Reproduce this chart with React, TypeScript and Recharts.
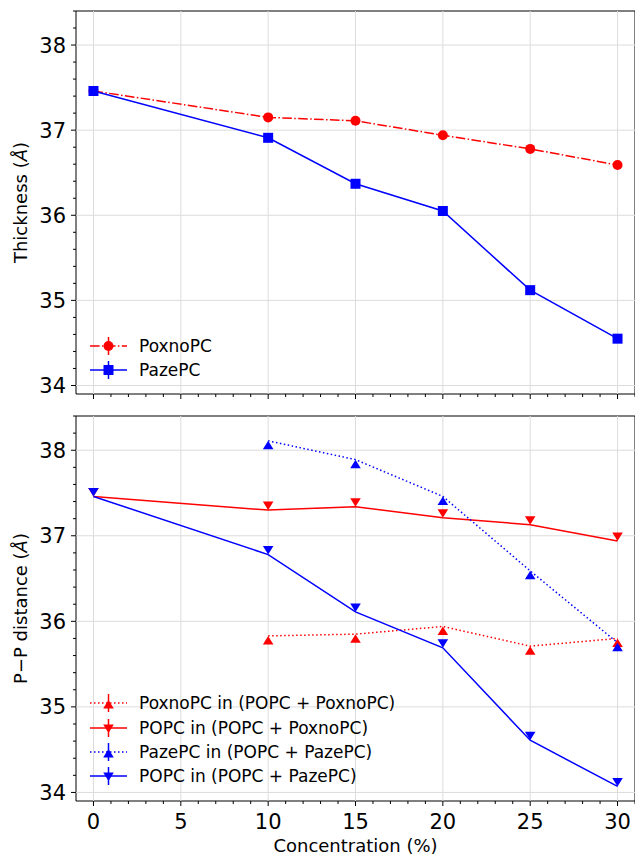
import React from "react";
import { Label, Legend, Line, LineChart, ReferenceArea, ReferenceLine, XAxis, YAxis } from "recharts";

// concentration (%) on the shared x axis
const concentration = [0, 10, 15, 20, 25, 30];

// top panel: bilayer thickness (Å)
const thicknessPoxno = [37.46, 37.15, 37.11, 36.94, 36.78, 36.59];
const thicknessPaze = [37.46, 36.91, 36.37, 36.05, 35.12, 34.55];

// bottom panel: P−P distance (Å)
const ppPoxnoInMix = [null, 35.83, 35.85, 35.94, 35.71, 35.8];
const ppPopcInPoxno = [37.46, 37.3, 37.34, 37.21, 37.13, 36.94];
const ppPazeInMix = [null, 38.11, 37.89, 37.46, 36.59, 35.75];
const ppPopcInPaze = [37.46, 36.78, 36.11, 35.69, 34.61, 34.07];

const xMajor = [0, 5, 10, 15, 20, 25, 30];
const xTicks = Array.from({ length: 32 }, (_, i) => i);
const yMajor = [34, 35, 36, 37, 38];
const yTicks = Array.from({ length: 23 }, (_, i) => +(34 + i * 0.2).toFixed(1));
const xDomain = [-1, 31];
const yDomain = [33.9, 38.4];

const RED = "#ff0000";
const BLUE = "#0000ff";
const FONT = "'DejaVu Sans', sans-serif";
const DASHDOT = "9.6 2.4 1.5 2.4";
const DOTTED = "1.5 2.5";

type MarkerKind = "circle" | "square" | "up" | "down";
type SeriesDef = { key: string; name: string; color: string; dash?: string; marker: MarkerKind };

const topSeries: SeriesDef[] = [
  { key: "poxno", name: "PoxnoPC", color: RED, dash: DASHDOT, marker: "circle" },
  { key: "paze", name: "PazePC", color: BLUE, marker: "square" },
];

const bottomSeries: SeriesDef[] = [
  { key: "poxnoMix", name: "PoxnoPC in (POPC + PoxnoPC)", color: RED, dash: DOTTED, marker: "up" },
  { key: "popcPoxno", name: "POPC in (POPC + PoxnoPC)", color: RED, marker: "down" },
  { key: "pazeMix", name: "PazePC in (POPC + PazePC)", color: BLUE, dash: DOTTED, marker: "up" },
  { key: "popcPaze", name: "POPC in (POPC + PazePC)", color: BLUE, marker: "down" },
];

const topData = concentration.map((c, i) => ({
  c,
  poxno: thicknessPoxno[i],
  paze: thicknessPaze[i],
}));

const bottomData = concentration.map((c, i) => ({
  c,
  poxnoMix: ppPoxnoInMix[i],
  popcPoxno: ppPopcInPoxno[i],
  pazeMix: ppPazeInMix[i],
  popcPaze: ppPopcInPaze[i],
}));

function markerShape(kind: MarkerKind, cx: number, cy: number, color: string, key?: string | number) {
  if (kind === "circle") return <circle key={key} cx={cx} cy={cy} r={5} fill={color} />;
  if (kind === "square") return <rect key={key} x={cx - 5} y={cy - 5} width={10} height={10} fill={color} />;
  const w = 5.3;
  const h = kind === "up" ? 8.5 : -8.5;
  return (
    <polygon
      key={key}
      points={`${cx - w},${cy + h} ${cx + w},${cy + h} ${cx},${cy}`}
      fill={color}
    />
  );
}

function makeDot(s: SeriesDef) {
  return (p: any) => {
    if (p.cx == null || p.cy == null || p.value == null) return <g key={`${s.key}-${p.index}`} />;
    return markerShape(s.marker, p.cx, p.cy, s.color, `${s.key}-${p.index}`);
  };
}

function XTick(props: any) {
  const { x, y, payload, showLabel } = props;
  const v = payload.value;
  const major = v % 5 === 0;
  return (
    <g>
      <line x1={x} x2={x} y1={y} y2={y + (major ? 5 : 3)} stroke="#000" strokeWidth={1} />
      {major && showLabel && (
        <text x={x} y={y + 27.5} textAnchor="middle" fontSize={21} fill="#000">
          {v}
        </text>
      )}
    </g>
  );
}

function YTick(props: any) {
  const { x, y, payload } = props;
  const v = payload.value;
  const major = Math.abs(v - Math.round(v)) < 1e-6;
  return (
    <g>
      <line x1={x} x2={x - (major ? 5 : 3)} y1={y} y2={y} stroke="#000" strokeWidth={1} />
      {major && (
        <text x={x - 10} y={y + 7.5} textAnchor="end" fontSize={21} fill="#000">
          {Math.round(v)}
        </text>
      )}
    </g>
  );
}

function legendContent(series: SeriesDef[]) {
  return () => (
    <div style={{ fontFamily: FONT, fontSize: 17, color: "#000" }}>
      {series.map((s) => (
        <div key={s.key} style={{ display: "flex", alignItems: "center", height: 24.3 }}>
          <svg width={54} height={24} style={{ display: "block" }}>
            <line x1={5} x2={42} y1={12} y2={12} stroke={s.color} strokeWidth={1.5} strokeDasharray={s.dash} />
            <line x1={23.5} x2={23.5} y1={3} y2={21} stroke={s.color} strokeWidth={1.5} />
            {markerShape(s.marker, 23.5, s.marker === "up" ? 9 : s.marker === "down" ? 17 : 12, s.color)}
          </svg>
          <span style={{ whiteSpace: "nowrap", lineHeight: "24px" }}>{s.name}</span>
        </div>
      ))}
    </div>
  );
}

function yLabel(text: string) {
  return (props: any) => {
    const vb = props.viewBox || { y: 0, height: 0 };
    const cy = vb.y + vb.height / 2;
    return (
      <text
        x={20}
        y={cy}
        transform={`rotate(-90 20 ${cy})`}
        textAnchor="middle"
        dominantBaseline="central"
        fontSize={18}
        fill="#000"
      >
        {text}
        <tspan fontStyle="italic">Å</tspan>)
      </text>
    );
  };
}

function gridAndFrame() {
  return [
    ...xMajor.map((v) => (
      <ReferenceLine key={`gx${v}`} x={v} stroke="#dcdcdc" strokeWidth={1} ifOverflow="hidden" />
    )),
    ...yMajor.map((v) => (
      <ReferenceLine key={`gy${v}`} y={v} stroke="#dcdcdc" strokeWidth={1} ifOverflow="hidden" />
    )),
    <ReferenceArea
      key="frame"
      x1={xDomain[0]}
      x2={xDomain[1]}
      y1={yDomain[0]}
      y2={yDomain[1]}
      fill="none"
      fillOpacity={0}
      stroke="#000"
      strokeWidth={1}
      strokeOpacity={1}
    />,
  ];
}

function renderLines(series: SeriesDef[]) {
  return series.map((s) => (
    <Line
      key={s.key}
      dataKey={s.key}
      name={s.name}
      stroke={s.color}
      strokeWidth={1.5}
      strokeDasharray={s.dash}
      dot={makeDot(s)}
      activeDot={false}
      isAnimationActive={false}
      connectNulls={false}
    />
  ));
}

export default function App() {
  return (
    <div style={{ position: "absolute", left: 0, top: 0, width: 635, height: 855, overflow: "hidden", fontFamily: FONT, background: "#fff" }}>
      <div style={{ position: "absolute", left: 0, top: 0 }}>
        <LineChart width={640} height={400} data={topData} margin={{ top: 11, right: 5, left: 0, bottom: 0 }}>
          {gridAndFrame()}
          <XAxis
            dataKey="c"
            type="number"
            domain={xDomain}
            ticks={xTicks}
            interval={0}
            allowDataOverflow
            height={6}
            tickSize={0}
            tickMargin={0}
            tickLine={false}
            axisLine={false}
            tick={<XTick showLabel={false} />}
          />
          <YAxis
            type="number"
            domain={yDomain}
            ticks={yTicks}
            interval={0}
            allowDataOverflow
            width={76}
            tickSize={0}
            tickMargin={0}
            tickLine={false}
            axisLine={false}
            tick={<YTick />}
          >
            <Label content={yLabel("Thickness (")} />
          </YAxis>
          {renderLines(topSeries)}
          <Legend
            layout="vertical"
            verticalAlign="middle"
            align="center"
            wrapperStyle={{ left: 85, top: 333.5, width: 320 }}
            content={legendContent(topSeries)}
          />
        </LineChart>
      </div>
      <div style={{ position: "absolute", left: 0, top: 405 }}>
        <LineChart width={640} height={450} data={bottomData} margin={{ top: 11, right: 5, left: 0, bottom: 0 }}>
          {gridAndFrame()}
          <XAxis
            dataKey="c"
            type="number"
            domain={xDomain}
            ticks={xTicks}
            interval={0}
            allowDataOverflow
            height={54}
            tickSize={0}
            tickMargin={0}
            tickLine={false}
            axisLine={false}
            tick={<XTick showLabel />}
          >
            <Label
              content={(props: any) => {
                const vb = props.viewBox || { x: 76, y: 396, width: 559 };
                return (
                  <text x={vb.x + vb.width / 2} y={vb.y + 50.5} textAnchor="middle" fontSize={18} fill="#000">
                    Concentration (%)
                  </text>
                );
              }}
            />
          </XAxis>
          <YAxis
            type="number"
            domain={yDomain}
            ticks={yTicks}
            interval={0}
            allowDataOverflow
            width={76}
            tickSize={0}
            tickMargin={0}
            tickLine={false}
            axisLine={false}
            tick={<YTick />}
          >
            <Label content={yLabel("P\u2212P distance (")} />
          </YAxis>
          {renderLines(bottomSeries)}
          <Legend
            layout="vertical"
            verticalAlign="middle"
            align="center"
            wrapperStyle={{ left: 85, top: 286.2, width: 400 }}
            content={legendContent(bottomSeries)}
          />
        </LineChart>
      </div>
    </div>
  );
}
